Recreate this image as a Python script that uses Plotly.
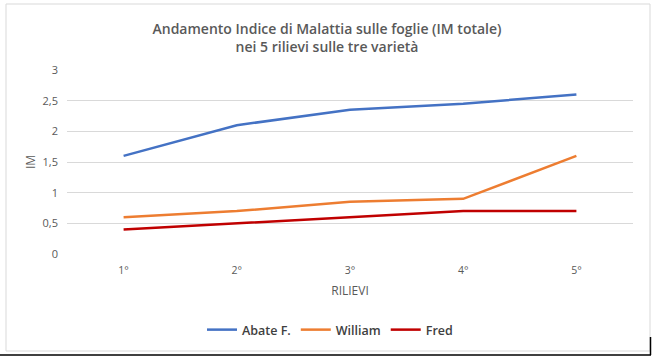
import plotly.graph_objects as go

categories = ["1°", "2°", "3°", "4°", "5°"]
abate = [1.6, 2.1, 2.35, 2.45, 2.6]
william = [0.6, 0.7, 0.85, 0.9, 1.6]
fred = [0.4, 0.5, 0.6, 0.7, 0.7]
y_ticks = [0, 0.5, 1, 1.5, 2, 2.5, 3]
y_tick_labels = ["0", "0,5", "1", "1,5", "2", "2,5", "3"]

W, H = 656, 359
L, R, T, B = 67, 23, 70, 105
pw, ph = W - L - R, H - T - B

def px(x):
    return (x - L) / pw

def py(y):
    return (H - B - y) / ph

fig = go.Figure()
for name, vals, col in [("Abate F.", abate, "#4472C4"),
                        ("William", william, "#ED7D31"),
                        ("Fred", fred, "#C00000")]:
    fig.add_trace(go.Scatter(x=categories, y=vals, mode="lines", name=name,
                             line=dict(color=col, width=2.5)))

fig.update_layout(
    width=W, height=H,
    margin=dict(l=L, r=R, t=T, b=B),
    paper_bgcolor="white", plot_bgcolor="white",
    font=dict(family="Open Sans", color="#595959"),
    title=dict(text="Andamento Indice di Malattia sulle foglie (IM totale)<br>nei 5 rilievi sulle tre varietà",
               x=327 / W, xanchor="center", xref="container", y=1 - 33.5 / H, yanchor="middle",
               font=dict(size=14, color="#595959", family="Open Sans", weight=600)),
    xaxis=dict(showgrid=False, zeroline=False, showline=False, ticks="",
               range=[-0.5, 4.5], ticklabelstandoff=8,
               tickfont=dict(size=10.5, color="#595959"),
               title=dict(text="RILIEVI", font=dict(size=12, color="#595959"), standoff=11)),
    yaxis=dict(range=[0, 3], tickvals=y_ticks, ticktext=y_tick_labels,
               showgrid=True, gridcolor="#D9D9D9", gridwidth=1, zeroline=False,
               tickfont=dict(size=11, color="#595959"), ticklabelstandoff=8,
               title=dict(text="IM", font=dict(size=12, color="#595959"), standoff=4)),
    legend=dict(orientation="h", x=px(330), xanchor="center", y=py(330), yanchor="middle",
                font=dict(size=12.5, color="#404040", weight=600), itemwidth=30,
                traceorder="normal"),
    showlegend=True,
)

fig.add_shape(type="rect", xref="paper", yref="paper",
              x0=px(6), x1=px(650), y0=py(351), y1=py(4),
              line=dict(color="#D9D9D9", width=1), layer="below")
fig.add_shape(type="line", xref="paper", yref="paper",
              x0=px(0), x1=px(651), y0=py(355), y1=py(355),
              line=dict(color="black", width=1.5))
fig.add_shape(type="line", xref="paper", yref="paper",
              x0=px(650.5), x1=px(650.5), y0=py(355), y1=py(337),
              line=dict(color="black", width=1.5))

fig.write_html("out.html", config={"displayModeBar": False},
               post_script="document.body.style.margin='0px';")
